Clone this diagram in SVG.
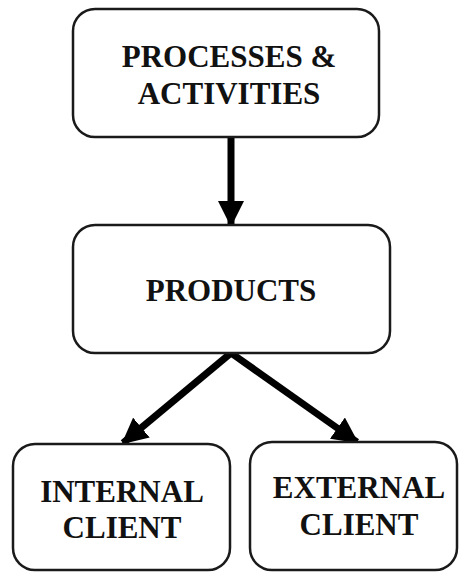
<svg xmlns="http://www.w3.org/2000/svg" width="459" height="572" viewBox="0 0 459 572">
  <defs>
    <style>
      .box { fill: #ffffff; stroke: #1a1a1a; stroke-width: 2.5; }
      .label { font-family: "Liberation Serif", "Times New Roman", serif; font-weight: bold; font-size: 31px; fill: #111111; text-anchor: middle; }
      .link { stroke: #000000; stroke-width: 7; fill: none; }
    </style>
    <marker id="head" markerUnits="userSpaceOnUse" markerWidth="26" markerHeight="26" viewBox="0 0 26 26" refX="24" refY="13" orient="auto">
      <path d="M0,0 L26,13 L0,26 Z" fill="#000000"/>
    </marker>
  </defs>

  <rect width="459" height="572" fill="#ffffff"/>

  <g id="connectors">
    <line class="link" x1="231" y1="138" x2="231" y2="225" marker-end="url(#head)"/>
    <line class="link" x1="231" y1="353" x2="123" y2="443" marker-end="url(#head)"/>
    <line class="link" x1="231" y1="353" x2="357" y2="442" marker-end="url(#head)"/>
  </g>

  <g id="processes">
    <rect class="box" x="73" y="9" width="306" height="128" rx="22"/>
    <text class="label" x="229" y="67">PROCESSES &amp;</text>
    <text class="label" x="229" y="104">ACTIVITIES</text>
  </g>

  <g id="products">
    <rect class="box" x="73" y="225" width="317" height="128" rx="22"/>
    <text class="label" x="231" y="301">PRODUCTS</text>
  </g>

  <g id="internal-client">
    <rect class="box" x="13" y="444" width="217" height="126" rx="22"/>
    <text class="label" x="122" y="502">INTERNAL</text>
    <text class="label" x="122" y="538">CLIENT</text>
  </g>

  <g id="external-client">
    <rect class="box" x="250" y="442" width="207" height="128" rx="22"/>
    <text class="label" x="359" y="498">EXTERNAL</text>
    <text class="label" x="359" y="535">CLIENT</text>
  </g>
</svg>
